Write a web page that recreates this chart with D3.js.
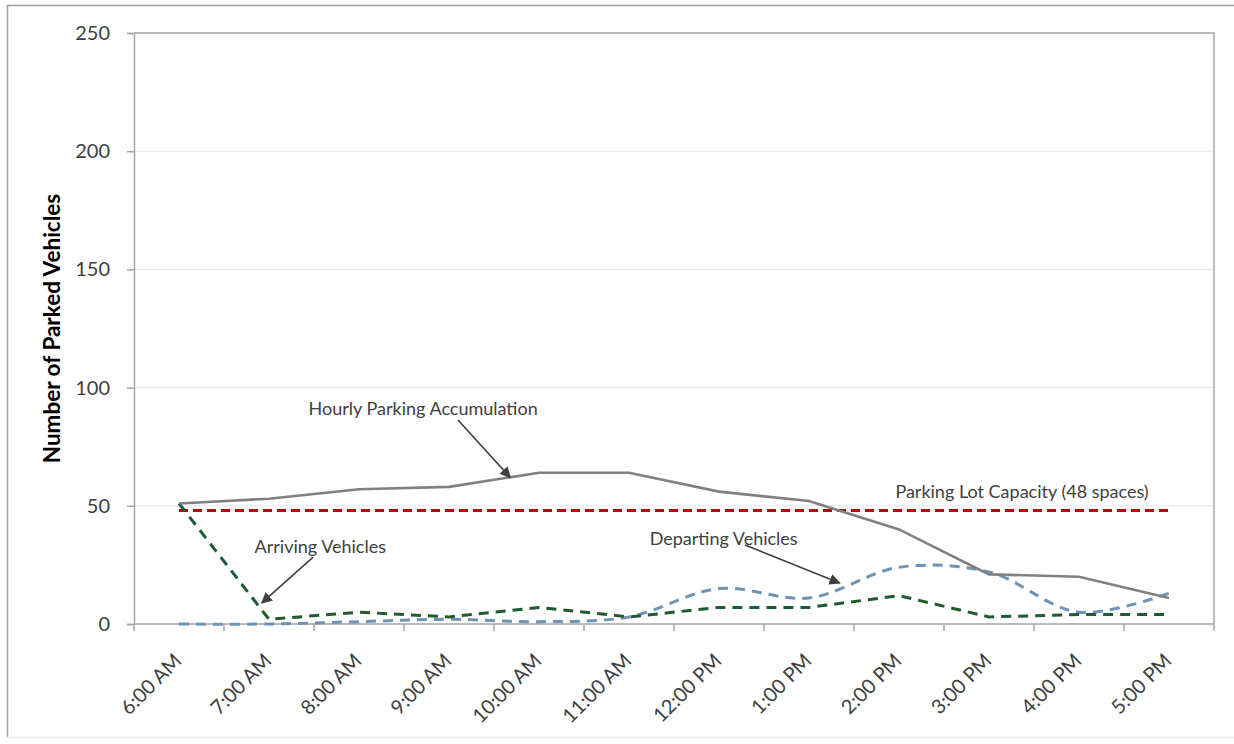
<!DOCTYPE html>
<html>
<head>
<meta charset="utf-8">
<script src="https://cdn.jsdelivr.net/npm/d3@7"></script>
<style>
  body { margin: 0; background: #fff; }
  svg { display: block; }
</style>
</head>
<body>
<script>
// hours on the x axis
const times = ["6:00 AM", "7:00 AM", "8:00 AM", "9:00 AM", "10:00 AM", "11:00 AM",
  "12:00 PM", "1:00 PM", "2:00 PM", "3:00 PM", "4:00 PM", "5:00 PM"];

// series
const accumulation = [51, 53, 57, 58, 64, 64, 56, 52, 40, 21, 20, 11];
const arriving = [51, 2, 5, 3, 7, 3, 7, 7, 12, 3, 4, 4];
const departing = [0, 0, 1, 2, 1, 3, 15, 11, 24, 22, 5, 13];
const capacity = [48, 48, 48, 48, 48, 48, 48, 48, 48, 48, 48, 48];

const yTicks = [0, 50, 100, 150, 200, 250];

// callouts: text at (category index, value), arrow from -> to in the same units
const notes = [
  { text: "Hourly Parking Accumulation", at: [1.44, 88.4], from: [3.1, 86.3], to: [3.68, 62] },
  { text: "Arriving Vehicles", at: [0.84, 30], from: [1.49, 28.3], to: [0.92, 8.9] },
  { text: "Departing Vehicles", at: [5.23, 33.4], from: [6.29, 33.4], to: [7.34, 17.3] },
  { text: "Parking Lot Capacity (48 spaces)", at: [7.96, 53.3] }
];

const W = 1234, H = 744;
const plotL = 134, plotR = 1214, plotT = 33, plotB = 624;
const font = "Lato, 'Open Sans', sans-serif";

const svg = d3.select("body").append("svg")
  .attr("width", W)
  .attr("height", H);

// outer frame: dark on the left and top, faint at the bottom
svg.append("path")
  .attr("d", `M7.5,737V5.5H${W}`)
  .attr("fill", "none")
  .attr("stroke", "#a0a0a0")
  .attr("stroke-width", 1.5);
svg.append("line")
  .attr("x1", 7.5).attr("x2", W)
  .attr("y1", 737.5).attr("y2", 737.5)
  .attr("stroke", "#ececec")
  .attr("stroke-width", 1.5);

const x = d3.scaleBand().domain(times).range([plotL, plotR]).padding(0);
const y = d3.scaleLinear().domain([0, 250]).range([plotB, plotT]);
const cx = d => x(d) + x.bandwidth() / 2;
// fractional category position, for the callouts
const xi = d3.scaleLinear().domain([0, times.length - 1]).range([cx(times[0]), cx(times[times.length - 1])]);

// gridlines
svg.append("g").selectAll("line")
  .data(yTicks.filter(t => t > 0 && t < 250))
  .join("line")
  .attr("x1", plotL).attr("x2", plotR)
  .attr("y1", d => y(d)).attr("y2", d => y(d))
  .attr("stroke", "#e4e4e4")
  .attr("stroke-width", 1);

// plot border (top and right)
svg.append("path")
  .attr("d", `M${plotL},${y(250)}H${plotR}V${plotB}`)
  .attr("fill", "none")
  .attr("stroke", "#a6a6a6")
  .attr("stroke-width", 1.5);

// y axis
const yAxis = svg.append("g")
  .attr("transform", `translate(${plotL},0)`)
  .call(d3.axisLeft(y).tickValues(yTicks).tickSize(7).tickPadding(17));
yAxis.select(".domain").attr("stroke", "#a6a6a6").attr("stroke-width", 1.5);
yAxis.selectAll(".tick line").attr("stroke", "#a6a6a6").attr("stroke-width", 1.5);
yAxis.selectAll(".tick text")
  .attr("font-family", font)
  .attr("font-size", 20)
  .attr("fill", "#404040");

// x axis: labels at category centres, ticks between categories
const xAxis = svg.append("g")
  .attr("transform", `translate(0,${plotB})`)
  .call(d3.axisBottom(x).tickSize(0));
xAxis.select(".domain").remove();
xAxis.selectAll(".tick text")
  .attr("font-family", font)
  .attr("font-size", 20)
  .attr("fill", "#404040")
  .attr("text-anchor", "end")
  .attr("transform", "translate(4,38) rotate(-45)")
  .attr("y", 0)
  .attr("dy", 0);

svg.append("line")
  .attr("x1", plotL).attr("x2", plotR)
  .attr("y1", plotB).attr("y2", plotB)
  .attr("stroke", "#a6a6a6")
  .attr("stroke-width", 1.5);

svg.append("g").selectAll("line")
  .data(times.map(t => x(t)).concat([plotR]))
  .join("line")
  .attr("x1", d => d).attr("x2", d => d)
  .attr("y1", plotB).attr("y2", plotB + 7)
  .attr("stroke", "#a6a6a6")
  .attr("stroke-width", 1.5);

// y axis title
svg.append("text")
  .attr("transform", `translate(60,${(plotT + plotB) / 2}) rotate(-90)`)
  .attr("text-anchor", "middle")
  .attr("font-family", font)
  .attr("font-weight", "bold")
  .attr("font-size", 22.5)
  .attr("fill", "#000")
  .text("Number of Parked Vehicles");

// series lines
const straight = d3.line()
  .x((d, i) => cx(times[i]))
  .y(d => y(d));
const smooth = d3.line()
  .x((d, i) => cx(times[i]))
  .y(d => y(d))
  .curve(d3.curveCatmullRom.alpha(0.5));

const series = [
  { values: capacity, color: "#c00000", width: 3, dash: "9,5", gen: straight },
  { values: departing, color: "#6f93b3", width: 3, dash: "10,7", gen: smooth },
  { values: arriving, color: "#1f5a32", width: 3, dash: "10,7", gen: straight },
  { values: accumulation, color: "#808080", width: 2.6, dash: null, gen: straight }
];

svg.append("g").selectAll("path")
  .data(series)
  .join("path")
  .attr("d", d => d.gen(d.values))
  .attr("fill", "none")
  .attr("stroke", d => d.color)
  .attr("stroke-width", d => d.width)
  .attr("stroke-dasharray", d => d.dash);

// arrowhead
svg.append("defs").append("marker")
  .attr("id", "arrow")
  .attr("viewBox", "0 0 10 10")
  .attr("refX", 9).attr("refY", 5)
  .attr("markerWidth", 7).attr("markerHeight", 7)
  .attr("orient", "auto")
  .append("path")
  .attr("d", "M0,0L10,5L0,10z")
  .attr("fill", "#404040");

const callouts = svg.append("g");
callouts.selectAll("text")
  .data(notes)
  .join("text")
  .attr("x", d => xi(d.at[0]))
  .attr("y", d => y(d.at[1]))
  .attr("font-family", font)
  .attr("font-size", 18)
  .attr("fill", "#404040")
  .text(d => d.text);

callouts.selectAll("line")
  .data(notes.filter(d => d.from))
  .join("line")
  .attr("x1", d => xi(d.from[0])).attr("y1", d => y(d.from[1]))
  .attr("x2", d => xi(d.to[0])).attr("y2", d => y(d.to[1]))
  .attr("stroke", "#404040")
  .attr("stroke-width", 1.6)
  .attr("marker-end", "url(#arrow)");
</script>
</body>
</html>
